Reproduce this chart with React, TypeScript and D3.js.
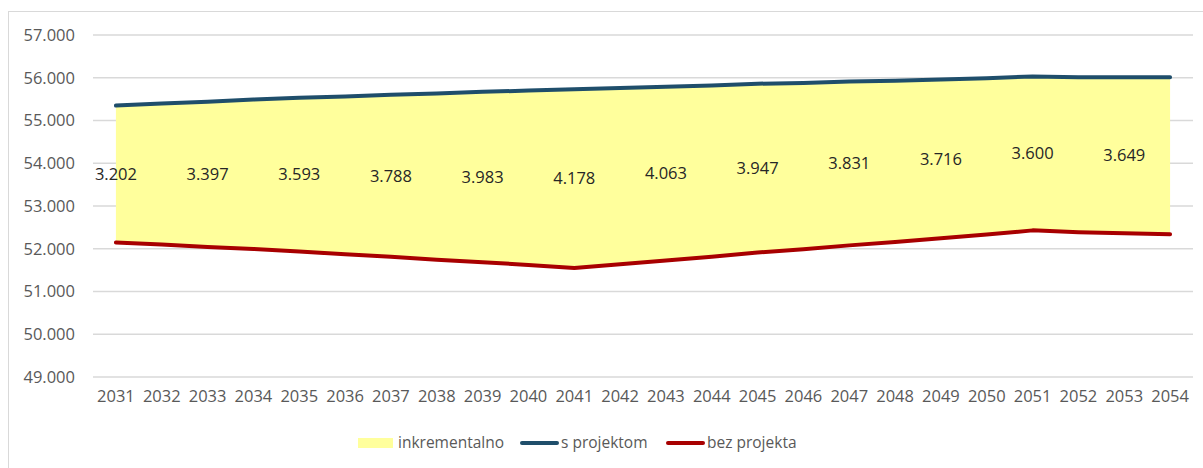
import React, { useEffect, useRef } from 'react';
import * as d3 from 'd3';

const years = [
  '2031', '2032', '2033', '2034', '2035', '2036', '2037', '2038',
  '2039', '2040', '2041', '2042', '2043', '2044', '2045', '2046',
  '2047', '2048', '2049', '2050', '2051', '2052', '2053', '2054',
];

// s projektom
const withProject = [
  55.35, 55.4, 55.44, 55.49, 55.53, 55.56, 55.6, 55.63, 55.67, 55.7, 55.73,
  55.76, 55.79, 55.82, 55.86, 55.88, 55.91, 55.93, 55.96, 55.99, 56.03, 56.01,
  56.01, 56.01,
];

// inkrementalno (difference between the lines)
const incremental = [
  3.202, 3.3, 3.397, 3.495, 3.593, 3.69, 3.788, 3.885, 3.983, 4.08, 4.178,
  4.12, 4.063, 4.005, 3.947, 3.889, 3.831, 3.774, 3.716, 3.658, 3.6, 3.625,
  3.649, 3.67,
];

// years that carry a data label
const labelledYears = [
  '2031', '2033', '2035', '2037', '2039', '2041', '2043', '2045', '2047',
  '2049', '2051', '2053',
];

const yTicks = [49, 50, 51, 52, 53, 54, 55, 56, 57];

const legendItems = [
  { name: 'inkrementalno', color: '#FFFF9C', kind: 'area' },
  { name: 's projektom', color: '#1F4E6B', kind: 'line' },
  { name: 'bez projekta', color: '#A80000', kind: 'line' },
];

const fmt = (v: number) => d3.format('.3f')(v);

function App() {
  const ref = useRef<HTMLDivElement>(null);

  useEffect(() => {
    document.body.style.margin = '0';
    const width = 1203;
    const height = 468;
    const margin = { top: 35, left: 93, right: 10, bottom: 91 };
    const font = "'Open Sans', 'Noto Sans', sans-serif";

    const div = d3.select(ref.current);
    div.selectAll('*').remove();

    const svg = div
      .append('svg')
      .attr('width', width)
      .attr('height', height)
      .style('display', 'block')
      .style('font-family', font);

    // chart border
    svg
      .append('rect')
      .attr('x', 8.5)
      .attr('y', 11.5)
      .attr('width', 1220)
      .attr('height', 500)
      .attr('fill', 'white')
      .attr('stroke', '#d9d9d9');

    const rows = years.map((yr, i) => ({
      year: yr,
      top: withProject[i],
      diff: incremental[i],
      bottom: withProject[i] - incremental[i],
    }));

    const x = d3
      .scaleBand()
      .domain(years)
      .range([margin.left, 1193]);
    const cx = (yr: string) => (x(yr) as number) + x.bandwidth() / 2;

    const y = d3
      .scaleLinear()
      .domain([49, 57])
      .range([377, margin.top]);

    // gridlines
    svg
      .append('g')
      .selectAll('line')
      .data(yTicks)
      .enter()
      .append('line')
      .attr('x1', margin.left)
      .attr('x2', 1193)
      .attr('y1', (d) => y(d))
      .attr('y2', (d) => y(d))
      .attr('stroke', '#d9d9d9')
      .attr('stroke-width', 1.5);

    // y axis labels
    const yAxis = svg
      .append('g')
      .attr('transform', `translate(${margin.left - 18},0)`)
      .call(
        d3
          .axisLeft(y)
          .tickValues(yTicks)
          .tickSize(0)
          .tickPadding(0)
          .tickFormat((d) => fmt(d as number)),
      );
    yAxis.select('.domain').remove();
    yAxis
      .selectAll('text')
      .style('font-family', font)
      .style('font-size', '16.5px')
      .style('fill', '#595959');

    // x axis labels
    const xAxis = svg
      .append('g')
      .attr('transform', `translate(0,${y(49) + 13})`)
      .call(d3.axisBottom(x).tickSize(0).tickPadding(0));
    xAxis.select('.domain').remove();
    xAxis
      .selectAll('text')
      .style('font-family', font)
      .style('font-size', '16.5px')
      .style('fill', '#595959');

    // incremental area
    const area = d3
      .area<(typeof rows)[number]>()
      .x((d) => cx(d.year))
      .y0((d) => y(d.bottom))
      .y1((d) => y(d.top));
    svg
      .append('path')
      .datum(rows)
      .attr('d', area)
      .attr('fill', '#FFFF9C');

    // lines
    const lineTop = d3
      .line<(typeof rows)[number]>()
      .x((d) => cx(d.year))
      .y((d) => y(d.top));
    const lineBottom = d3
      .line<(typeof rows)[number]>()
      .x((d) => cx(d.year))
      .y((d) => y(d.bottom));
    svg
      .append('path')
      .datum(rows)
      .attr('d', lineTop)
      .attr('fill', 'none')
      .attr('stroke', '#1F4E6B')
      .attr('stroke-width', 4)
      .attr('stroke-linecap', 'round')
      .attr('stroke-linejoin', 'round');
    svg
      .append('path')
      .datum(rows)
      .attr('d', lineBottom)
      .attr('fill', 'none')
      .attr('stroke', '#A80000')
      .attr('stroke-width', 4)
      .attr('stroke-linecap', 'round')
      .attr('stroke-linejoin', 'round');

    // data labels
    svg
      .append('g')
      .selectAll('text')
      .data(rows.filter((d) => labelledYears.includes(d.year)))
      .enter()
      .append('text')
      .attr('x', (d) => cx(d.year))
      .attr('y', (d) => (y(d.top) + y(d.bottom)) / 2)
      .attr('dy', '0.35em')
      .attr('text-anchor', 'middle')
      .style('font-size', '16.5px')
      .style('fill', '#262626')
      .text((d) => fmt(d.diff));

    // legend
    const legendY = 443;
    const legendX = [358, 520, 666];
    const lg = svg
      .append('g')
      .selectAll('g')
      .data(legendItems)
      .enter()
      .append('g')
      .attr('transform', (d, i) => `translate(${legendX[i]},${legendY})`);
    lg.filter((d) => d.kind === 'area')
      .append('rect')
      .attr('x', 0)
      .attr('y', -5)
      .attr('width', 35)
      .attr('height', 10)
      .attr('fill', (d) => d.color);
    lg.filter((d) => d.kind === 'line')
      .append('line')
      .attr('x1', 2)
      .attr('x2', 37)
      .attr('y1', 0)
      .attr('y2', 0)
      .attr('stroke', (d) => d.color)
      .attr('stroke-width', 4)
      .attr('stroke-linecap', 'round');
    lg.append('text')
      .attr('x', (d) => (d.kind === 'area' ? 40 : 41))
      .attr('y', 0)
      .attr('dy', '0.35em')
      .style('font-size', '15.5px')
      .style('fill', '#595959')
      .text((d) => d.name);
  }, []);

  return <div ref={ref} />;
}

export default App;
